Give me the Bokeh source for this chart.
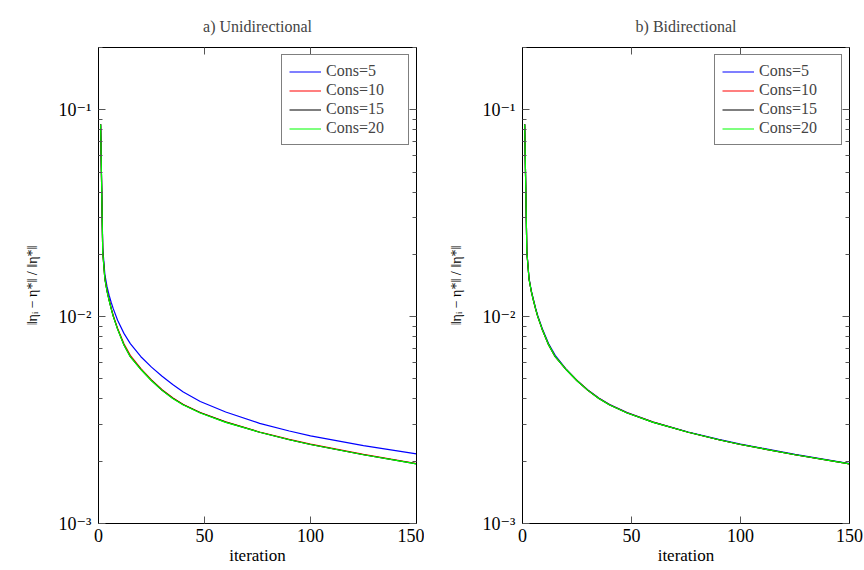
from bokeh.plotting import figure
from bokeh.layouts import row
from bokeh.models import (FixedTicker, LinearAxis, LogAxis, Range1d, Legend,
                          LegendItem, CustomJSTickFormatter)
from bokeh.embed import file_html
from bokeh.resources import INLINE

# ---------------- data ----------------
iterations = [1, 2, 3, 4, 5, 6, 7, 9, 12, 15, 20, 25, 30, 35, 40, 48, 60, 76, 90, 100, 125, 150]

uni_cons5 = [0.085, 0.0215, 0.0160, 0.0140, 0.0127, 0.0117, 0.0109, 0.0096, 0.0083, 0.0074,
             0.0064, 0.00570, 0.00515, 0.00470, 0.00432, 0.00389, 0.00346, 0.00305, 0.00280,
             0.00265, 0.00238, 0.00217]
uni_cons10 = [0.085, 0.0206, 0.0153, 0.0134, 0.0121, 0.0110, 0.0101, 0.0088, 0.0074, 0.0065,
              0.00560, 0.00494, 0.00443, 0.00405, 0.00376, 0.00344, 0.00310, 0.00277, 0.00255,
              0.00242, 0.00216, 0.00195]
uni_cons15 = [0.085, 0.0205, 0.0152, 0.0133, 0.0120, 0.0109, 0.0100, 0.0087, 0.0073, 0.0064,
              0.00556, 0.00491, 0.00441, 0.00403, 0.00375, 0.00343, 0.00309, 0.00276, 0.00254,
              0.00241, 0.00215, 0.00194]
uni_cons20 = [0.085, 0.0205, 0.0152, 0.0133, 0.0120, 0.0109, 0.0100, 0.0087, 0.0073, 0.0064,
              0.00555, 0.00490, 0.00440, 0.00402, 0.00374, 0.00342, 0.00308, 0.00276, 0.00254,
              0.00241, 0.00215, 0.00194]

bi_cons5 = [0.085, 0.0206, 0.0153, 0.0134, 0.0121, 0.0110, 0.0101, 0.0088, 0.0074, 0.0065,
            0.00558, 0.00492, 0.00442, 0.00404, 0.00376, 0.00344, 0.00309, 0.00277, 0.00255,
            0.00242, 0.00216, 0.00195]
bi_cons10 = [0.085, 0.0205, 0.0152, 0.0133, 0.0120, 0.0109, 0.0100, 0.0087, 0.0073, 0.0064,
             0.00556, 0.00491, 0.00441, 0.00403, 0.00375, 0.00343, 0.00309, 0.00276, 0.00254,
             0.00241, 0.00215, 0.00194]
bi_cons15 = [0.085, 0.0205, 0.0152, 0.0133, 0.0120, 0.0109, 0.0100, 0.0087, 0.0073, 0.0064,
             0.00555, 0.00490, 0.00440, 0.00402, 0.00374, 0.00342, 0.00308, 0.00276, 0.00254,
             0.00241, 0.00215, 0.00194]
bi_cons20 = [0.085, 0.0205, 0.0152, 0.0133, 0.0120, 0.0109, 0.0100, 0.0087, 0.0073, 0.0064,
             0.00555, 0.00490, 0.00440, 0.00402, 0.00374, 0.00342, 0.00308, 0.00276, 0.00254,
             0.00241, 0.00215, 0.00194]

series_names = ["Cons=5", "Cons=10", "Cons=15", "Cons=20"]
series_colors = ["#0000ff", "#ff0000", "#000000", "#00ff00"]

x_ticks = [0, 50, 100, 150]
x_min, x_max = 0, 150
y_ticks = [1e-3, 1e-2, 1e-1]
y_min, y_max = 1e-3, 0.2
y_tick_labels = ["10⁻³", "10⁻²", "10⁻¹"]
y_minor = [m * 10.0 ** e for e in (-3, -2, -1) for m in range(2, 10)]

titles = ["a) Unidirectional", "b) Bidirectional"]
x_label = "iteration"
y_label = "‖ηᵢ − η*‖ / ‖η*‖"

FONT = "'Liberation Serif', 'DejaVu Serif', serif"
LABEL_FONT = "serif"
TICK_COLOR = "#555555"
H = 570


def make_label_fmt():
    return CustomJSTickFormatter(
        args=dict(tvals=y_ticks, tlabels=y_tick_labels),
        code="""
        for (let i = 0; i < tvals.length; i++) {
            if (Math.abs(Math.log10(tvals[i]) - Math.log10(tick)) < 1e-6) return tlabels[i];
        }
        return "";
    """)


def make_blank_fmt():
    return CustomJSTickFormatter(code="return '';")


def style_axis(ax, show_labels):
    ax.axis_line_color = "black"
    ax.axis_line_width = 1
    ax.major_tick_in = 7
    ax.major_tick_out = 0
    ax.minor_tick_in = 4
    ax.minor_tick_out = 0
    ax.major_tick_line_color = TICK_COLOR
    ax.minor_tick_line_color = TICK_COLOR
    ax.major_label_text_font = FONT
    ax.major_label_text_font_size = "18px"
    ax.major_label_text_color = "black"
    ax.axis_label_text_font = LABEL_FONT
    ax.axis_label_text_font_style = "normal"
    ax.axis_label_text_color = "black"
    if not show_labels:
        ax.major_label_standoff = 0


def make_panel(title, ys, frame_w, border_r):
    p = figure(width=98 + frame_w + border_r, height=H,
               x_range=Range1d(x_min, x_max), y_range=Range1d(y_min, y_max),
               y_axis_type="log", x_axis_location=None, y_axis_location=None,
               output_backend="svg", toolbar_location=None,
               min_border_left=98, min_border_right=border_r,
               min_border_top=47, min_border_bottom=47)
    p.grid.visible = False
    p.outline_line_color = "black"
    p.background_fill_color = "white"
    p.border_fill_color = "white"

    p.title.text = title
    p.title.align = "center"
    p.title.text_font = FONT
    p.title.text_font_size = "16px"
    p.title.text_font_style = "normal"
    p.title.standoff = 26

    xt = FixedTicker(ticks=x_ticks, minor_ticks=[])
    yt = FixedTicker(ticks=y_ticks, minor_ticks=y_minor)

    bottom = LinearAxis(ticker=xt, axis_label=x_label)
    style_axis(bottom, True)
    bottom.major_label_standoff = 5
    bottom.axis_label_standoff = 1
    bottom.axis_label_text_font_size = "17px"
    p.add_layout(bottom, "below")

    top = LinearAxis(ticker=xt, formatter=make_blank_fmt())
    style_axis(top, False)
    p.add_layout(top, "above")

    left = LogAxis(ticker=yt, formatter=make_label_fmt(), axis_label=y_label)
    style_axis(left, True)
    left.major_label_standoff = 7
    left.axis_label_standoff = 16
    left.axis_label_text_font_size = "14px"
    p.add_layout(left, "left")

    right = LogAxis(ticker=yt, formatter=make_blank_fmt())
    style_axis(right, False)
    p.add_layout(right, "right")

    items = []
    for name, color, y in zip(series_names, series_colors, ys):
        r = p.line(iterations, y, line_color=color, line_width=1.2)
        items.append(LegendItem(label=name, renderers=[r]))

    leg = Legend(items=items, location="top_right")
    leg.margin = 7
    leg.padding = 7
    leg.spacing = 1
    leg.glyph_width = 32
    leg.glyph_height = 17
    leg.label_height = 17
    leg.label_width = 75
    leg.label_standoff = 5
    leg.label_text_font = FONT
    leg.label_text_font_size = "16px"
    leg.border_line_color = "black"
    leg.border_line_width = 1
    leg.background_fill_color = "white"
    leg.background_fill_alpha = 1
    p.add_layout(leg)
    return p


p1 = make_panel(titles[0], [uni_cons5, uni_cons10, uni_cons15, uni_cons20], 318, 8)
p2 = make_panel(titles[1], [bi_cons5, bi_cons10, bi_cons15, bi_cons20], 327, 15)

layout = row(p1, p2)
open("out.html", "w").write(file_html(layout, INLINE))
